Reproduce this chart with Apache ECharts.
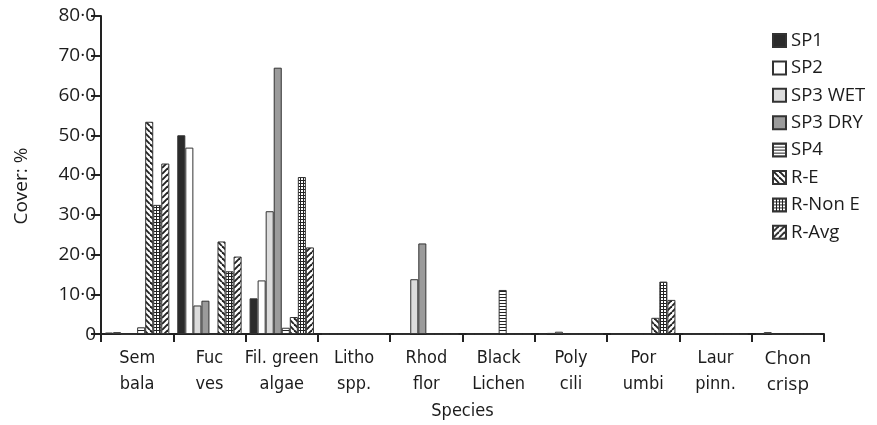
<!DOCTYPE html>
<html>
<head>
<meta charset="utf-8">
<script src="https://cdn.jsdelivr.net/npm/echarts@6/dist/echarts.min.js"></script>
<style>
  html, body { margin: 0; padding: 0; background: #fff; }
  #chart { width: 877px; height: 425px; }
</style>
</head>
<body>
<div id="chart"></div>
<script>
// Species groups along the x axis
const categories = ['Sem\nbala', 'Fuc\nves', 'Fil. green\nalgae', 'Litho\nspp.', 'Rhod\nflor',
  'Black\nLichen', 'Poly\ncili', 'Por\numbi', 'Laur\npinn.', 'Chon\ncrisp'];

// Percentage cover per survey
const sp1     = [0.4, 50.0, 9.0, 0, 0, 0, 0, 0, 0, 0];
const sp2     = [0.5, 46.9, 13.5, 0, 0, 0, 0.3, 0, 0, 0.5];
const sp3Wet  = [0, 7.2, 30.9, 0, 13.8, 0, 0.6, 0, 0, 0];
const sp3Dry  = [0, 8.4, 67.0, 0, 22.8, 0, 0, 0, 0, 0];
const sp4     = [1.7, 0, 1.6, 0, 0, 11.1, 0, 0, 0, 0];
const rE      = [53.4, 23.3, 4.3, 0, 0, 0, 0, 4.1, 0, 0];
const rNonE   = [32.5, 15.8, 39.5, 0, 0, 0, 0, 13.2, 0, 0];
const rAvg    = [42.9, 19.5, 21.8, 0, 0, 0, 0, 8.6, 0, 0];

const seriesNames = ['SP1', 'SP2', 'SP3 WET', 'SP3 DRY', 'SP4', 'R-E', 'R-Non E', 'R-Avg'];
const yTicks = [0, 10, 20, 30, 40, 50, 60, 70, 80];

const INK = '#222';
const TEXT = '#1c1c1c';
const NARROW = 'Liberation Sans Narrow, DejaVu Sans Condensed';

function tile(size, draw) {
  const c = document.createElement('canvas');
  c.width = size; c.height = size;
  const ctx = c.getContext('2d');
  ctx.fillStyle = '#fff';
  ctx.fillRect(0, 0, size, size);
  ctx.fillStyle = INK;
  ctx.strokeStyle = INK;
  draw(ctx, size);
  return { image: c, repeat: 'repeat' };
}

const hStripes = tile(3, (ctx) => { ctx.fillRect(0, 0, 3, 1); });
const gridFill = tile(3, (ctx) => { ctx.fillRect(0, 0, 3, 1); ctx.fillRect(0, 0, 1, 3); });
function diag(back) {
  return tile(6, (ctx, s) => {
    ctx.lineWidth = 1.9;
    for (let k = -1; k <= 1; k++) {
      ctx.beginPath();
      if (back) { ctx.moveTo(k * s, 0); ctx.lineTo(k * s + s, s); }
      else { ctx.moveTo(k * s, s); ctx.lineTo(k * s + s, 0); }
      ctx.stroke();
    }
  });
}
const backSlash = diag(true);
const fwdSlash = diag(false);

const fills = ['#2b2b2b', '#ffffff', '#dcdcdc', '#9b9b9b', hStripes, backSlash, gridFill, fwdSlash];
const values = [sp1, sp2, sp3Wet, sp3Dry, sp4, rE, rNonE, rAvg];

const series = seriesNames.map((name, i) => ({
  name,
  type: 'bar',
  data: values[i],
  barGap: '0%',
  barCategoryGap: '11%',
  itemStyle: { color: fills[i], borderColor: '#333', borderWidth: 1 }
}));

const chart = echarts.init(document.getElementById('chart'), null, { renderer: 'canvas' });
chart.setOption({
  animation: false,
  backgroundColor: '#fff',
  grid: { left: 101, right: 53, top: 16, bottom: 89 },
  legend: {
    orient: 'vertical',
    left: 767,
    top: 26,
    icon: 'rect',
    itemWidth: 13,
    itemHeight: 13,
    itemGap: 8.4,
    data: seriesNames,
    textStyle: { fontFamily: 'Open Sans', fontSize: 18.5, color: TEXT, lineHeight: 18.5 }
  },
  xAxis: {
    type: 'category',
    data: categories,
    name: 'Species',
    nameLocation: 'middle',
    nameGap: 64,
    nameTextStyle: { fontFamily: NARROW, fontSize: 18, color: TEXT },
    axisLine: { lineStyle: { color: INK, width: 2 } },
    axisTick: { show: true, length: 8, lineStyle: { color: INK, width: 2 } },
    axisLabel: {
      margin: 11,
      interval: 0,
      fontFamily: NARROW,
      fontSize: 18,
      lineHeight: 26,
      color: TEXT,
      formatter: (v) => v.startsWith('Chon') ? '{big|' + v.replace('\n', '}\n{big|') + '}' : v,
      rich: { big: { fontFamily: 'Open Sans', fontSize: 19, lineHeight: 26, color: TEXT } }
    }
  },
  yAxis: {
    type: 'value',
    min: yTicks[0],
    max: yTicks[yTicks.length - 1],
    interval: 10,
    name: 'Cover: %',
    nameLocation: 'middle',
    nameGap: 70,
    nameTextStyle: { fontFamily: 'Open Sans', fontSize: 19, color: TEXT, padding: [0, 22, 0, 0] },
    splitLine: { show: false },
    axisLine: { show: true, lineStyle: { color: INK, width: 2 } },
    axisTick: { show: true, length: 10, lineStyle: { color: INK, width: 2 } },
    axisLabel: {
      margin: 5,
      fontFamily: 'Open Sans',
      fontSize: 19,
      color: TEXT,
      formatter: (v) => v === 0 ? '0' : v.toFixed(1).replace('.', '\u00b7')
    }
  },
  series
});
</script>
</body>
</html>
